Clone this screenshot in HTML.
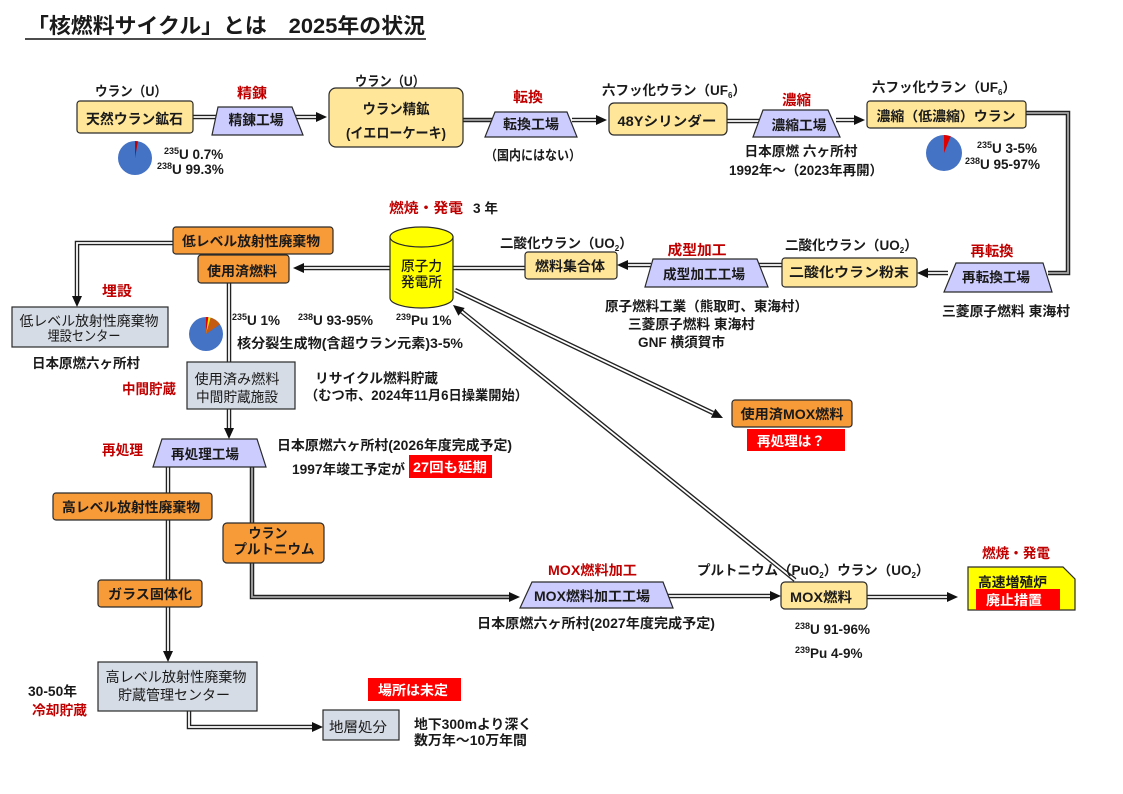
<!DOCTYPE html>
<html><head><meta charset="utf-8">
<style>
html,body{margin:0;padding:0;background:#fff;}
svg{display:block;}
text{font-family:"Liberation Sans","Noto Sans CJK JP",sans-serif;font-weight:bold;font-size:13.5px;fill:#1a1a1a;}
.n{font-weight:normal;}
.r{fill:#C00000;}
.w{fill:#fff;}
.o{stroke:#222;stroke-width:4.5;fill:none;}
.i{stroke:#fff;stroke-width:1.8;fill:none;}
.g{stroke:#a6a6a6;stroke-width:1.8;fill:none;}
.bx{stroke:#2a2a2a;stroke-width:1.2;}
.y{fill:#FFE699;} .or{fill:#F79A38;} .lv{fill:#CCCCFF;} .gr{fill:#D6DCE5;} .rd{fill:#FF0000;}
.ah{fill:#111;}
</style></head>
<body>
<svg width="1123" height="794" viewBox="0 0 1123 794" xmlns="http://www.w3.org/2000/svg">
<rect x="0" y="0" width="1123" height="794" fill="#fff"/>

<!-- Title -->
<text x="27" y="33" style="font-size:21px" textLength="398" lengthAdjust="spacingAndGlyphs">「核燃料サイクル」とは　2025年の状況</text>
<line x1="25" y1="39" x2="426" y2="39" stroke="#111" stroke-width="1.5"/>

<!-- ========== CONNECTORS ========== -->
<!-- A 天然→精錬 -->
<polyline class="o" points="193,117 217,117"/><polyline class="i" points="193,117 217,117"/>
<!-- B 精錬→ウラン精鉱 -->
<polyline class="o" points="292,117 318,117"/><polyline class="i" points="292,117 318,117"/>
<polygon class="ah" points="327,117 316,112 316,122"/>
<!-- C ウラン精鉱→転換 (gray) -->
<polyline class="o" points="463,120 492,120"/><polyline class="g" points="463,120 492,120"/>
<!-- D 転換→48Y -->
<polyline class="o" points="572,120 598,120"/><polyline class="i" points="572,120 598,120"/>
<polygon class="ah" points="607,120 596,115 596,125"/>
<!-- E 48Y→濃縮 -->
<polyline class="o" points="727,121 766,121"/><polyline class="i" points="727,121 766,121"/>
<!-- F 濃縮→濃縮ウラン -->
<polyline class="o" points="836,120 856,120"/><polyline class="i" points="836,120 856,120"/>
<polygon class="ah" points="865,120 854,115 854,125"/>
<!-- G 濃縮ウラン→再転換 (gray) -->
<polyline class="o" points="1026,113 1068,113 1068,273 1048,273"/><polyline class="g" points="1026,113 1068,113 1068,273 1048,273"/>
<!-- H 再転換→二酸化ウラン粉末 -->
<polyline class="o" points="948,273 926,273"/><polyline class="i" points="948,273 926,273"/>
<polygon class="ah" points="917,273 928,268 928,278"/>
<!-- I 粉末→成型 -->
<polyline class="o" points="782,265 756,265"/><polyline class="i" points="782,265 756,265"/>
<!-- J 成型→燃料集合体 -->
<polyline class="o" points="651,265 626,265"/><polyline class="i" points="651,265 626,265"/>
<polygon class="ah" points="617,265 628,260 628,270"/>
<!-- K 燃料集合体→原子力 -->
<polyline class="o" points="525,268 453,268"/><polyline class="i" points="525,268 453,268"/>
<!-- L 原子力→使用済燃料 -->
<polyline class="o" points="390,268 303,268"/><polyline class="i" points="390,268 303,268"/>
<polygon class="ah" points="293,268 304,263 304,273"/>
<!-- M 低レベル→埋設 -->
<polyline class="o" points="173,243 77,243 77,298"/><polyline class="i" points="173,243 77,243 77,298"/>
<polygon class="ah" points="77,307 72,296 82,296"/>
<!-- N 使用済燃料→中間貯蔵 -->
<polyline class="o" points="229,283 229,362"/><polyline class="i" points="229,283 229,362"/>
<!-- O 中間貯蔵→再処理 -->
<polyline class="o" points="229,409 229,430"/><polyline class="i" points="229,409 229,430"/>
<polygon class="ah" points="229,439 224,428 234,428"/>
<!-- P 再処理→高レベル -->
<polyline class="o" points="168,467 168,653"/><polyline class="i" points="168,467 168,653"/>
<polygon class="ah" points="168,662 163,651 173,651"/>
<!-- Q 再処理→MOX加工 (gray) -->
<polyline class="o" points="252,467 252,597 511,597"/><polyline class="g" points="252,467 252,597 511,597"/>
<polygon class="ah" points="520,597 509,592 509,602"/>
<!-- R MOX加工→MOX燃料 -->
<polyline class="o" points="668,596 772,596"/><polyline class="i" points="668,596 772,596"/>
<polygon class="ah" points="781,596 770,591 770,601"/>
<!-- S MOX燃料→高速増殖炉 -->
<polyline class="o" points="867,597 949,597"/><polyline class="i" points="867,597 949,597"/>
<polygon class="ah" points="958,597 947,592 947,602"/>
<!-- T 高レベルセンター→地層処分 -->
<polyline class="o" points="189,711 189,727 314,727"/><polyline class="i" points="189,711 189,727 314,727"/>
<polygon class="ah" points="323,727 312,722 312,732"/>
<!-- U 原子力→使用済MOX -->
<polyline class="o" points="455,290 713,413"/><polyline class="i" points="455,290 713,413"/>
<polygon class="ah" points="723,418 710.9,417.8 715.3,408.8"/>
<!-- V MOX燃料→原子力 -->
<polyline class="o" points="795,580 461,311"/><polyline class="i" points="795,580 461,311"/>
<polygon class="ah" points="453,305 464.7,308 458.4,315.8"/>

<!-- ========== SHAPES ========== -->
<!-- top row -->
<rect class="bx y" x="77" y="101" width="116" height="32" rx="3"/>
<polygon class="bx lv" points="218,107 292,107 303,135 212,135"/>
<rect class="bx y" x="329" y="88" width="134" height="59" rx="7"/>
<polygon class="bx lv" points="495,112 567,112 577,137 485,137"/>
<rect class="bx y" x="609" y="103" width="118" height="32" rx="5"/>
<polygon class="bx lv" points="763,110 828,110 840,137 753,137"/>
<rect class="bx y" x="867" y="101" width="159" height="27" rx="3"/>

<!-- pies -->
<circle cx="135" cy="158" r="17" fill="#4472C4"/>
<path d="M135,158 L135,141 A17,17 0 0 1 137.95,141.26 Z" fill="#C00000"/>
<circle cx="944" cy="153" r="18" fill="#4472C4"/>
<path d="M944,153 L944,135 A18,18 0 0 1 950.74,136.31 Z" fill="#E00000"/>
<circle cx="206" cy="334" r="17" fill="#4472C4"/>
<path d="M206,334 L206,317 A17,17 0 0 1 208.37,317.17 Z" fill="#E00000"/>
<path d="M206,334 L208.37,317.17 A17,17 0 0 1 210.69,317.66 Z" fill="#FFE600"/>
<path d="M206,334 L210.69,317.66 A17,17 0 0 1 219.93,324.25 Z" fill="#C55A11"/>

<!-- second row -->
<polygon class="bx lv" points="956,263 1043,263 1052,292 944,292"/>
<rect class="bx y" x="782" y="258" width="135" height="29" rx="3"/>
<polygon class="bx lv" points="653,259 757,259 768,287 645,287"/>
<rect class="bx y" x="525" y="252" width="92" height="27" rx="3"/>
<!-- cylinder -->
<path class="bx" d="M390,237 L390,298 A31.5,10 0 0 0 453,298 L453,237 Z" fill="#FFFF00"/>
<ellipse class="bx" cx="421.5" cy="237" rx="31.5" ry="10" fill="#FFFF00"/>
<rect class="bx or" x="173" y="227" width="160" height="27" rx="3"/>
<rect class="bx or" x="198" y="255" width="91" height="28" rx="3"/>
<rect class="bx gr" x="12" y="307" width="156" height="40"/>
<rect class="bx gr" x="187" y="362" width="108" height="47"/>
<rect class="bx or" x="732" y="400" width="120" height="27" rx="3"/>
<rect class="rd" x="747" y="429" width="98" height="22"/>

<!-- lower -->
<polygon class="bx lv" points="162,439 257,439 266,467 153,467"/>
<rect class="rd" x="409" y="455" width="83" height="23"/>
<rect class="bx or" x="53" y="493" width="159" height="27" rx="3"/>
<rect class="bx or" x="223" y="523" width="101" height="40" rx="4"/>
<rect class="bx or" x="98" y="580" width="104" height="27" rx="3"/>
<rect class="bx gr" x="98" y="662" width="159" height="49"/>
<rect class="bx gr" x="323" y="710" width="76" height="30"/>
<rect class="rd" x="368" y="678" width="93" height="23"/>

<polygon class="bx lv" points="532,582 663,582 673,608 520,608"/>
<rect class="bx y" x="781" y="582" width="86" height="27" rx="4"/>
<polygon class="bx" points="968,567 1063,567 1075,579 1075,610 968,610" fill="#FFFF00"/>
<rect class="rd" x="976" y="589" width="84" height="21"/>

<!-- ========== TEXT ========== -->
<!-- top row -->
<text x="95" y="96" textLength="72" lengthAdjust="spacingAndGlyphs">ウラン（U）</text>
<text x="134.5" y="124" text-anchor="middle" style="font-size:14px" textLength="97" lengthAdjust="spacingAndGlyphs">天然ウラン鉱石</text>
<text x="164" y="159"><tspan style="font-size:9px" dy="-5">235</tspan><tspan dy="5">U 0.7%</tspan></text>
<text x="157" y="174"><tspan style="font-size:9px" dy="-5">238</tspan><tspan dy="5">U 99.3%</tspan></text>
<text class="r" x="237" y="98" style="font-size:14px" textLength="30" lengthAdjust="spacingAndGlyphs">精錬</text>
<text x="256" y="125" text-anchor="middle" style="font-size:14px" textLength="55" lengthAdjust="spacingAndGlyphs">精錬工場</text>
<text x="355" y="86" textLength="70" lengthAdjust="spacingAndGlyphs">ウラン（U）</text>
<text x="396" y="114" text-anchor="middle" style="font-size:14px" textLength="67" lengthAdjust="spacingAndGlyphs">ウラン精鉱</text>
<text x="396" y="138" text-anchor="middle" style="font-size:14px" textLength="100" lengthAdjust="spacingAndGlyphs">(イエローケーキ)</text>

<text class="r" x="513" y="102" style="font-size:14px" textLength="30" lengthAdjust="spacingAndGlyphs">転換</text>
<text x="531" y="129" text-anchor="middle" textLength="56" lengthAdjust="spacingAndGlyphs">転換工場</text>
<text x="485" y="160" textLength="96" lengthAdjust="spacingAndGlyphs">（国内にはない）</text>

<text x="602" y="95"><tspan>六フッ化ウラン（UF</tspan><tspan style="font-size:8px" dy="3">6</tspan><tspan dy="-3">）</tspan></text>
<text x="667" y="126" text-anchor="middle" textLength="99" lengthAdjust="spacingAndGlyphs">48Yシリンダー</text>
<text class="r" x="782" y="105" style="font-size:14px" textLength="29" lengthAdjust="spacingAndGlyphs">濃縮</text>
<text x="799" y="130" text-anchor="middle" textLength="55" lengthAdjust="spacingAndGlyphs">濃縮工場</text>
<text x="801" y="156" text-anchor="middle" textLength="113" lengthAdjust="spacingAndGlyphs">日本原燃 六ヶ所村</text>
<text x="729" y="175" textLength="154" lengthAdjust="spacingAndGlyphs">1992年〜（2023年再開）</text>

<text x="872" y="92"><tspan>六フッ化ウラン（UF</tspan><tspan style="font-size:8px" dy="3">6</tspan><tspan dy="-3">）</tspan></text>
<text x="946" y="121" text-anchor="middle" textLength="139" lengthAdjust="spacingAndGlyphs">濃縮（低濃縮）ウラン</text>
<text x="977" y="153"><tspan style="font-size:9px" dy="-5">235</tspan><tspan dy="5">U 3-5%</tspan></text>
<text x="965" y="169"><tspan style="font-size:9px" dy="-5">238</tspan><tspan dy="5">U 95-97%</tspan></text>

<!-- second row -->
<text class="r" x="992" y="256" text-anchor="middle" style="font-size:14px" textLength="43" lengthAdjust="spacingAndGlyphs">再転換</text>
<text x="996" y="282" text-anchor="middle" textLength="68" lengthAdjust="spacingAndGlyphs">再転換工場</text>
<text x="942" y="316" textLength="128" lengthAdjust="spacingAndGlyphs">三菱原子燃料 東海村</text>
<text x="785" y="250"><tspan>二酸化ウラン（UO</tspan><tspan style="font-size:8px" dy="3">2</tspan><tspan dy="-3">）</tspan></text>
<text x="849" y="277" text-anchor="middle" textLength="120" lengthAdjust="spacingAndGlyphs">二酸化ウラン粉末</text>
<text class="r" x="697" y="255" text-anchor="middle" style="font-size:14px" textLength="59" lengthAdjust="spacingAndGlyphs">成型加工</text>
<text x="704" y="279" text-anchor="middle" textLength="82" lengthAdjust="spacingAndGlyphs">成型加工工場</text>
<text x="500" y="248"><tspan>二酸化ウラン（UO</tspan><tspan style="font-size:8px" dy="3">2</tspan><tspan dy="-3">）</tspan></text>
<text x="570" y="271" text-anchor="middle" textLength="70" lengthAdjust="spacingAndGlyphs">燃料集合体</text>
<text x="605" y="311" textLength="203" lengthAdjust="spacingAndGlyphs">原子燃料工業（熊取町、東海村）</text>
<text x="628" y="329" textLength="127" lengthAdjust="spacingAndGlyphs">三菱原子燃料 東海村</text>
<text x="638" y="347" textLength="87" lengthAdjust="spacingAndGlyphs">GNF 横須賀市</text>

<text class="r" x="389" y="213" style="font-size:14px" textLength="74" lengthAdjust="spacingAndGlyphs">燃焼・発電</text>
<text x="473" y="213" textLength="25" lengthAdjust="spacingAndGlyphs">3 年</text>
<text x="421.5" y="271" text-anchor="middle" style="font-size:14px;font-weight:500" textLength="41" lengthAdjust="spacingAndGlyphs">原子力</text>
<text x="421.5" y="287" text-anchor="middle" style="font-size:14px;font-weight:500" textLength="41" lengthAdjust="spacingAndGlyphs">発電所</text>

<text x="251" y="246" text-anchor="middle" textLength="138" lengthAdjust="spacingAndGlyphs">低レベル放射性廃棄物</text>
<text x="242" y="276" text-anchor="middle" textLength="70" lengthAdjust="spacingAndGlyphs">使用済燃料</text>
<text class="r" x="102" y="296" style="font-size:14px" textLength="30" lengthAdjust="spacingAndGlyphs">埋設</text>
<text class="n" x="89" y="326" text-anchor="middle" style="font-size:14px" textLength="139" lengthAdjust="spacingAndGlyphs">低レベル放射性廃棄物</text>
<text class="n" x="84" y="341" text-anchor="middle" style="font-size:14px" textLength="73" lengthAdjust="spacingAndGlyphs">埋設センター</text>
<text x="32" y="368" textLength="108" lengthAdjust="spacingAndGlyphs">日本原燃六ヶ所村</text>

<text x="232" y="325"><tspan style="font-size:9px" dy="-5">235</tspan><tspan dy="5">U 1%</tspan></text>
<text x="298" y="325"><tspan style="font-size:9px" dy="-5">238</tspan><tspan dy="5">U 93-95%</tspan></text>
<text x="396" y="325"><tspan style="font-size:9px" dy="-5">239</tspan><tspan dy="5">Pu 1%</tspan></text>
<text x="237" y="348" textLength="226" lengthAdjust="spacingAndGlyphs">核分裂生成物(含超ウラン元素)3-5%</text>

<text class="n" x="237" y="384" text-anchor="middle" style="font-size:14px" textLength="85" lengthAdjust="spacingAndGlyphs">使用済み燃料</text>
<text class="n" x="237" y="402" text-anchor="middle" style="font-size:14px" textLength="82" lengthAdjust="spacingAndGlyphs">中間貯蔵施設</text>
<text class="r" x="122" y="394" style="font-size:14px" textLength="54" lengthAdjust="spacingAndGlyphs">中間貯蔵</text>
<text x="315" y="383" textLength="123" lengthAdjust="spacingAndGlyphs">リサイクル燃料貯蔵</text>
<text x="305" y="400" textLength="223" lengthAdjust="spacingAndGlyphs">（むつ市、2024年11月6日操業開始）</text>

<text x="792" y="419" text-anchor="middle" textLength="103" lengthAdjust="spacingAndGlyphs">使用済MOX燃料</text>
<text class="w" x="791" y="446" text-anchor="middle" textLength="68" lengthAdjust="spacingAndGlyphs">再処理は？</text>

<!-- lower -->
<text class="r" x="102" y="455" style="font-size:14px" textLength="41" lengthAdjust="spacingAndGlyphs">再処理</text>
<text x="205" y="459" text-anchor="middle" textLength="68" lengthAdjust="spacingAndGlyphs">再処理工場</text>
<text x="277" y="450" textLength="235" lengthAdjust="spacingAndGlyphs">日本原燃六ヶ所村(2026年度完成予定)</text>
<text x="292" y="474" textLength="113" lengthAdjust="spacingAndGlyphs">1997年竣工予定が</text>
<text class="w" x="413" y="472" textLength="74" lengthAdjust="spacingAndGlyphs">27回も延期</text>
<text x="131" y="512" text-anchor="middle" textLength="138" lengthAdjust="spacingAndGlyphs">高レベル放射性廃棄物</text>
<text x="268" y="538" text-anchor="middle" textLength="39" lengthAdjust="spacingAndGlyphs">ウラン</text>
<text x="274" y="554" text-anchor="middle" textLength="81" lengthAdjust="spacingAndGlyphs">プルトニウム</text>
<text x="150" y="599" text-anchor="middle" textLength="84" lengthAdjust="spacingAndGlyphs">ガラス固体化</text>
<text class="n" x="176" y="682" text-anchor="middle" style="font-size:14px" textLength="141" lengthAdjust="spacingAndGlyphs">高レベル放射性廃棄物</text>
<text class="n" x="174" y="700" text-anchor="middle" style="font-size:14px" textLength="112" lengthAdjust="spacingAndGlyphs">貯蔵管理センター</text>
<text x="28" y="696" textLength="49" lengthAdjust="spacingAndGlyphs">30-50年</text>
<text class="r" x="32" y="715" textLength="55" lengthAdjust="spacingAndGlyphs">冷却貯蔵</text>
<text class="n" x="358" y="732" text-anchor="middle" style="font-size:14px" textLength="58" lengthAdjust="spacingAndGlyphs">地層処分</text>
<text class="w" x="413" y="695" text-anchor="middle" textLength="70" lengthAdjust="spacingAndGlyphs">場所は未定</text>
<text x="414" y="729" textLength="118" lengthAdjust="spacingAndGlyphs">地下300mより深く</text>
<text x="414" y="745" textLength="113" lengthAdjust="spacingAndGlyphs">数万年〜10万年間</text>

<text class="r" x="548" y="575" textLength="89" lengthAdjust="spacingAndGlyphs">MOX燃料加工</text>
<text x="592" y="601" text-anchor="middle" textLength="116" lengthAdjust="spacingAndGlyphs">MOX燃料加工工場</text>
<text x="477" y="628" textLength="238" lengthAdjust="spacingAndGlyphs">日本原燃六ヶ所村(2027年度完成予定)</text>
<text x="697" y="575"><tspan>プルトニウム（PuO</tspan><tspan style="font-size:8px" dy="3">2</tspan><tspan dy="-3">）ウラン（UO</tspan><tspan style="font-size:8px" dy="3">2</tspan><tspan dy="-3">）</tspan></text>
<text x="821" y="602" text-anchor="middle" textLength="62" lengthAdjust="spacingAndGlyphs">MOX燃料</text>
<text x="795" y="634"><tspan style="font-size:9px" dy="-5">238</tspan><tspan dy="5">U 91-96%</tspan></text>
<text x="795" y="658"><tspan style="font-size:9px" dy="-5">239</tspan><tspan dy="5">Pu 4-9%</tspan></text>

<text class="r" x="982" y="558" textLength="68" lengthAdjust="spacingAndGlyphs">燃焼・発電</text>
<text x="978" y="587" textLength="69" lengthAdjust="spacingAndGlyphs">高速増殖炉</text>
<text class="w" x="986" y="605" textLength="56" lengthAdjust="spacingAndGlyphs">廃止措置</text>
</svg>
</body></html>
